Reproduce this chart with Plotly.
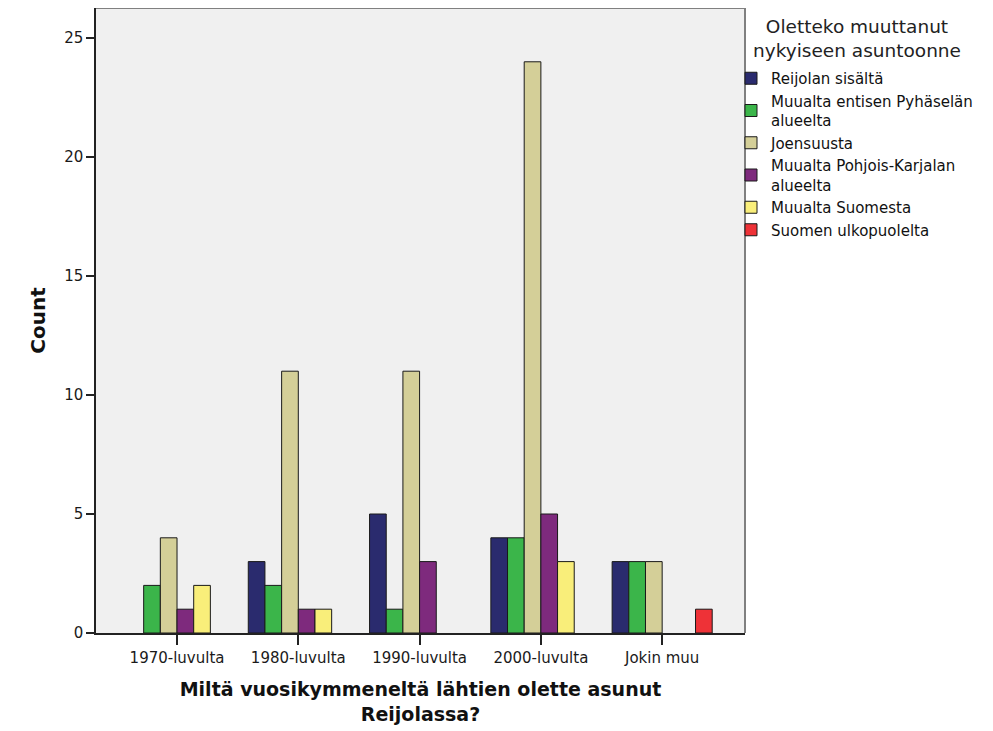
import plotly.graph_objects as go

categories = ["1970-luvulta", "1980-luvulta", "1990-luvulta", "2000-luvulta", "Jokin muu"]

series_names = [
    "Reijolan sisältä",
    "Muualta entisen Pyhäselän<br>alueelta",
    "Joensuusta",
    "Muualta Pohjois-Karjalan<br>alueelta",
    "Muualta Suomesta",
    "Suomen ulkopuolelta",
]

reijolan_sisalta = [None, 3, 5, 4, 3]
pyhaselan_alueelta = [2, 2, 1, 4, 3]
joensuusta = [4, 11, 11, 24, 3]
pohjois_karjalan_alueelta = [1, 1, 3, 5, None]
muualta_suomesta = [2, 1, None, 3, None]
suomen_ulkopuolelta = [None, None, None, None, 1]

series_values = [
    reijolan_sisalta,
    pyhaselan_alueelta,
    joensuusta,
    pohjois_karjalan_alueelta,
    muualta_suomesta,
    suomen_ulkopuolelta,
]

colors = ["#2A2B6E", "#3BB54A", "#D4CF98", "#7E2A7D", "#F9EE7A", "#EE3237"]

y_ticks = [0, 5, 10, 15, 20, 25]

legend_title = "Oletteko muuttanut<br>nykyiseen asuntoonne"
x_title = "Miltä vuosikymmeneltä lähtien olette asunut<br>Reijolassa?"
y_title = "Count"

FONT = "DejaVu Sans, Verdana, sans-serif"

fig = go.Figure()
for name, vals, col in zip(series_names, series_values, colors):
    fig.add_trace(go.Bar(
        x=categories, y=vals, name=name,
        marker=dict(color=col, line=dict(color="#1a1a1a", width=1)),
    ))

# page body has an 8px margin, so the figure is 8px smaller than the window
fig.update_layout(
    width=985, height=723,
    barmode="group", bargap=0.175, bargroupgap=0,
    paper_bgcolor="white", plot_bgcolor="#F0F0F0",
    margin=dict(l=88, r=248, t=0, b=98),
    font=dict(family=FONT, size=15, color="#1a1a1a"),
    xaxis=dict(
        range=[-0.668, 4.683], showgrid=False, zeroline=False,
        showline=True, linecolor="#222222", linewidth=1.5,
        ticks="outside", ticklen=10, tickcolor="#222222", tickwidth=1.5,
        tickfont=dict(size=15, color="#1a1a1a"),
        title=dict(text=x_title,
                   font=dict(size=19, weight="bold", color="#111111"), standoff=17),
    ),
    yaxis=dict(
        range=[0, 26.26], tickvals=y_ticks, showgrid=False, zeroline=False,
        showline=True, linecolor="#222222", linewidth=1.5,
        ticks="outside", ticklen=8, tickcolor="#222222", tickwidth=1.5,
        tickfont=dict(size=15, color="#1a1a1a"),
        title=dict(text=y_title, font=dict(size=20, weight="bold", color="#111111"), standoff=13),
    ),
    legend=dict(
        x=0.97843, xanchor="left", y=0.9136, yanchor="top",
        bgcolor="rgba(0,0,0,0)",
        font=dict(size=15, color="#111111"),
        itemwidth=30,
    ),
    annotations=[
        dict(text=legend_title, xref="paper", yref="paper", x=1.1726, y=0.952,
             xanchor="center", yanchor="middle", showarrow=False, align="center",
             font=dict(size=18.5, color="#222222")),
    ],
    shapes=[
        dict(type="line", xref="paper", yref="paper", x0=0, x1=1, y0=1, y1=1,
             line=dict(color="#808080", width=2)),
        dict(type="line", xref="paper", yref="paper", x0=1, x1=1, y0=0, y1=1,
             line=dict(color="#808080", width=2)),
    ],
)

fig.write_html("out.html")
